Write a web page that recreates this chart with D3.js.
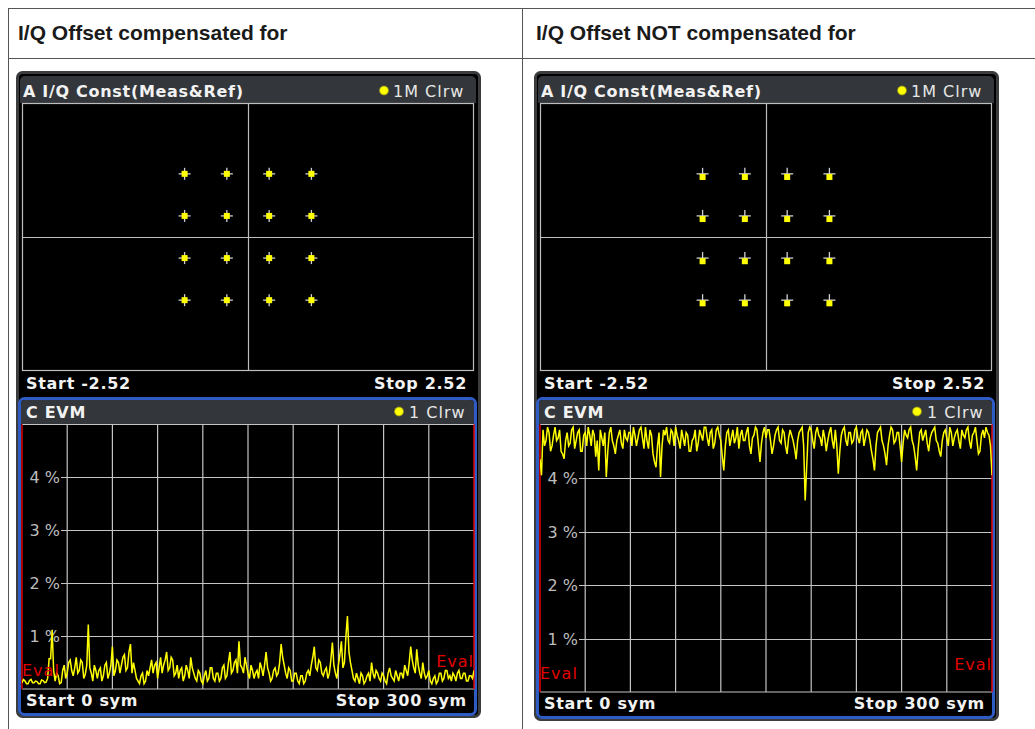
<!DOCTYPE html>
<html>
<head>
<meta charset="utf-8">
<script src="https://cdn.jsdelivr.net/npm/d3@7"></script>
<style>
  body { margin: 0; background: #fff; }
  svg { display: block; }
</style>
</head>
<body>
<div id="chart"></div>
<script>
// column headers of the table
const headers = ["I/Q Offset compensated for", "I/Q Offset NOT compensated for"];

// 16QAM reference levels (I and Q), constellation span
const iqLevels = [-0.707, -0.236, 0.236, 0.707];
const constSpan = [-2.52, 2.52];
const qSpan = [-1.5, 1.5];
// measured point offset from reference (I, Q)
const measOffsetComp = [0, 0];
const measOffsetNotComp = [0, -0.035];

// EVM trace, one value per symbol (0..300), in %
const evmComp = [
  0.12,0.18,0.15,0.10,0.10,0.16,0.18,0.12,0.12,0.15,
  0.14,0.10,0.10,0.17,0.16,0.12,0.13,0.20,0.57,0.57,
  1.12,0.35,0.15,0.30,0.25,0.10,0.12,0.35,0.45,0.20,
  0.30,0.50,0.55,0.35,0.25,0.40,0.60,0.30,0.35,0.55,
  0.50,0.20,0.28,0.45,1.22,0.40,0.30,0.15,0.45,0.35,
  0.20,0.35,0.40,0.15,0.25,0.45,0.50,0.20,0.30,0.45,
  0.80,0.25,0.35,0.55,0.50,0.30,0.45,0.60,0.65,0.35,
  0.40,0.70,0.85,0.30,0.50,0.35,0.20,0.15,0.10,0.25,
  0.30,0.10,0.15,0.35,0.25,0.40,0.55,0.30,0.45,0.50,
  0.20,0.40,0.60,0.30,0.45,0.55,0.70,0.35,0.40,0.60,
  0.55,0.25,0.30,0.45,0.20,0.35,0.40,0.15,0.25,0.45,
  0.35,0.20,0.60,0.40,0.30,0.20,0.15,0.35,0.30,0.15,
  0.10,0.25,0.35,0.15,0.20,0.40,0.40,0.20,0.15,0.30,
  0.30,0.15,0.20,0.40,0.45,0.20,0.25,0.50,0.70,0.30,
  0.35,0.50,0.55,0.30,0.90,0.45,0.40,0.30,0.60,0.45,
  0.30,0.20,0.45,0.35,0.20,0.30,0.35,0.20,0.50,0.40,
  0.25,0.45,0.70,0.40,0.30,0.15,0.20,0.35,0.40,0.25,
  0.30,0.50,0.85,0.60,0.45,0.30,0.20,0.40,0.35,0.15,
  0.15,0.30,0.30,0.15,0.10,0.25,0.25,0.10,0.15,0.30,
  0.35,0.25,0.45,0.60,0.80,0.40,0.35,0.55,0.50,0.30,
  0.25,0.35,0.40,0.20,0.30,0.55,0.88,0.45,0.30,0.20,
  0.45,0.65,0.90,0.40,0.50,1.00,1.38,0.70,0.50,0.35,
  0.20,0.15,0.30,0.20,0.10,0.30,0.25,0.10,0.15,0.25,
  0.30,0.15,0.50,0.30,0.20,0.35,0.30,0.20,0.15,0.30,
  0.25,0.15,0.10,0.30,0.40,0.25,0.20,0.15,0.35,0.25,
  0.15,0.30,0.30,0.20,0.45,0.35,0.25,0.50,0.80,0.55,
  0.40,0.30,0.75,0.45,0.30,0.20,0.50,0.30,0.20,0.25,
  0.35,0.15,0.10,0.20,0.25,0.10,0.15,0.30,0.30,0.15,
  0.20,0.35,0.35,0.20,0.25,0.15,0.30,0.25,0.15,0.30,
  0.35,0.20,0.20,0.30,0.30,0.15,0.15,0.25,0.25,0.20,
  0.35
];
const evmNotComp = [
  4.35,4.05,4.90,4.60,4.70,4.95,4.85,4.50,4.60,4.80,
  4.95,4.70,4.75,4.90,4.50,4.45,4.36,4.70,4.85,4.60,
  4.65,4.90,4.95,4.55,4.70,4.85,4.90,4.50,4.50,4.80,
  4.85,4.60,4.95,4.80,4.60,4.90,4.80,4.40,4.70,4.14,
  4.90,4.75,4.60,4.85,4.02,4.50,4.85,4.95,4.70,4.60,
  4.45,4.70,4.80,4.90,4.65,4.55,4.90,4.75,4.70,4.85,
  4.85,4.60,4.95,4.80,4.60,4.75,4.90,4.95,4.75,4.55,
  4.95,4.70,4.55,4.90,4.80,4.45,4.30,4.20,4.60,4.85,
  4.02,4.60,4.90,4.80,4.95,4.70,4.65,4.90,4.85,4.60,
  4.95,4.80,4.70,4.55,4.90,4.75,4.60,4.85,4.80,4.50,
  4.50,4.70,4.75,4.90,4.50,4.65,4.90,4.80,4.70,4.95,
  4.95,4.75,4.60,4.85,4.90,4.55,4.65,4.90,4.95,4.80,
  4.70,4.40,4.14,4.60,4.85,4.90,4.60,4.75,4.90,4.65,
  4.75,4.95,4.55,4.80,4.90,4.70,4.70,4.85,4.95,4.60,
  4.45,4.75,4.80,4.95,4.90,4.60,4.30,4.65,4.85,4.95,
  4.75,4.90,4.90,4.70,4.45,4.60,4.80,4.90,4.95,4.70,
  4.65,4.90,4.85,4.60,4.45,4.75,4.90,4.80,4.70,4.55,
  4.35,4.70,4.85,4.90,4.95,4.60,3.58,4.20,4.85,4.95,
  4.90,4.70,4.55,4.85,4.95,4.80,4.75,4.60,4.90,4.75,
  4.50,4.70,4.85,4.95,4.70,4.55,4.90,4.60,4.08,4.50,
  4.80,4.90,4.95,4.70,4.60,4.85,4.85,4.65,4.70,4.90,
  4.95,4.75,4.65,4.85,4.90,4.60,4.75,4.90,4.85,4.70,
  4.50,4.35,4.14,4.60,4.85,4.90,4.95,4.70,4.60,4.45,
  4.24,4.60,4.80,4.95,4.90,4.65,4.70,4.85,4.85,4.60,
  4.30,4.65,4.90,4.80,4.75,4.90,4.95,4.70,4.60,4.40,
  4.14,4.55,4.85,4.90,4.70,4.80,4.90,4.65,4.50,4.75,
  4.85,4.90,4.95,4.70,4.65,4.50,4.40,4.70,4.85,4.90,
  4.75,4.60,4.95,4.85,4.60,4.75,4.85,4.90,4.70,4.55,
  4.90,4.80,4.75,4.90,4.95,4.70,4.55,4.80,4.85,4.95,
  4.70,4.45,4.50,4.80,4.90,4.75,4.95,4.85,4.80,4.60,
  4.05
];
const evmTicks = [1, 2, 3, 4];
const symRange = [0, 300];

const W = 1035, H = 729;
const svg = d3.select("#chart").append("svg")
    .attr("width", W).attr("height", H);

// table lines
const lineColor = "#555";
svg.append("line").attr("x1", 8).attr("x2", W).attr("y1", 8.5).attr("y2", 8.5).attr("stroke", lineColor);
svg.append("line").attr("x1", 8).attr("x2", W).attr("y1", 58.5).attr("y2", 58.5).attr("stroke", lineColor);
svg.append("line").attr("x1", 8.5).attr("x2", 8.5).attr("y1", 8).attr("y2", H).attr("stroke", lineColor);
svg.append("line").attr("x1", 522.5).attr("x2", 522.5).attr("y1", 8).attr("y2", H).attr("stroke", lineColor);

svg.selectAll(".hdr").data(headers).enter().append("text")
    .attr("class", "hdr")
    .attr("x", (d, i) => i === 0 ? 18 : 536)
    .attr("y", 40)
    .attr("font-family", "Liberation Sans, Arial, sans-serif")
    .attr("font-weight", "bold")
    .attr("font-size", 21)
    .attr("fill", "#1a1a1a")
    .text(d => d);

const font = "DejaVu Sans, Verdana, sans-serif";

function label(g, x, y, txt, opts) {
    opts = opts || {};
    return g.append("text").attr("x", x).attr("y", y)
        .attr("font-family", font)
        .attr("font-weight", opts.bold ? "bold" : "normal")
        .attr("font-size", 16)
        .attr("letter-spacing", opts.bold ? 0.7 : 1)
        .attr("text-anchor", opts.anchor || "start")
        .attr("fill", opts.color || "#f2f2f2")
        .text(txt);
}

function drawPanel(dx, evmData, measOffset, evmBottom) {
    const g = svg.append("g").attr("transform", "translate(" + dx + ",0)");

    // outer frame of the window
    g.append("rect").attr("x", 17.5).attr("y", 72.5).attr("width", 462).attr("height", evmBottom + 27 - 72)
        .attr("rx", 5).attr("fill", "#000").attr("stroke", "#3a3c3e").attr("stroke-width", 3);
    g.append("rect").attr("x", 20).attr("y", 76).attr("width", 456).attr("height", 27)
        .attr("rx", 5).attr("fill", "#33363a");
    g.append("rect").attr("x", 20).attr("y", 95).attr("width", 456).attr("height", 8)
        .attr("fill", "#33363a");

    label(g, 23, 97, "A I/Q Const(Meas&Ref)", {bold: true});
    g.append("circle").attr("cx", 384).attr("cy", 90.5).attr("r", 4.5)
        .attr("fill", "#ffff00").attr("stroke", "#8a8a20").attr("stroke-width", 0.8);
    label(g, 393, 97, "1M Clrw", {color: "#e6e6e6"});

    // constellation plot
    const cx = d3.scaleLinear().domain(constSpan).range([22, 474]);
    const cy = d3.scaleLinear().domain(qSpan).range([371, 103]);

    g.append("rect").attr("x", 22.5).attr("y", 103.5).attr("width", 451).attr("height", 267)
        .attr("fill", "#000").attr("stroke", "#bdbdbd").attr("stroke-width", 1.2);
    g.append("line").attr("x1", Math.round(cx(0)) + 0.5).attr("x2", Math.round(cx(0)) + 0.5)
        .attr("y1", 103).attr("y2", 371).attr("stroke", "#bdbdbd").attr("stroke-width", 1.2);
    g.append("line").attr("y1", Math.round(cy(0)) + 0.5).attr("y2", Math.round(cy(0)) + 0.5)
        .attr("x1", 22).attr("x2", 474).attr("stroke", "#bdbdbd").attr("stroke-width", 1.2);

    const pts = [];
    iqLevels.forEach(i => iqLevels.forEach(q => pts.push({i: i, q: q})));

    const refs = g.selectAll(".ref").data(pts).enter().append("g").attr("class", "ref");
    refs.append("line")
        .attr("x1", d => cx(d.i) - 6).attr("x2", d => cx(d.i) + 6)
        .attr("y1", d => cy(d.q)).attr("y2", d => cy(d.q))
        .attr("stroke", "#d0d0d0").attr("stroke-width", 1.3);
    refs.append("line")
        .attr("x1", d => cx(d.i)).attr("x2", d => cx(d.i))
        .attr("y1", d => cy(d.q) - 6).attr("y2", d => cy(d.q) + 6)
        .attr("stroke", "#d0d0d0").attr("stroke-width", 1.3);
    g.selectAll(".meas").data(pts).enter().append("rect")
        .attr("class", "meas")
        .attr("x", d => cx(d.i + measOffset[0]) - 3)
        .attr("y", d => cy(d.q + measOffset[1]) - 3)
        .attr("width", 6).attr("height", 6)
        .attr("fill", "#ffff00");

    label(g, 26, 389, "Start " + constSpan[0], {bold: true});
    label(g, 467, 389, "Stop " + constSpan[1], {bold: true, anchor: "end"});

    // EVM window
    const top = 424.5;
    g.append("rect").attr("x", 19.5).attr("y", 398.5).attr("width", 456).attr("height", evmBottom + 25 - 398)
        .attr("rx", 5).attr("fill", "#000").attr("stroke", "#2f5cc4").attr("stroke-width", 3);
    g.append("rect").attr("x", 21).attr("y", 400).attr("width", 453).attr("height", 24)
        .attr("rx", 4).attr("fill", "#33363a");
    g.append("rect").attr("x", 21).attr("y", 412).attr("width", 453).attr("height", 12)
        .attr("fill", "#33363a");
    label(g, 26, 418, "C EVM", {bold: true});
    g.append("circle").attr("cx", 399).attr("cy", 411.5).attr("r", 4.5)
        .attr("fill", "#ffff00").attr("stroke", "#8a8a20").attr("stroke-width", 0.8);
    label(g, 409, 418, "1 Clrw", {color: "#e6e6e6"});

    const ex = d3.scaleLinear().domain(symRange).range([22, 474]);
    const ey = d3.scaleLinear().domain([0, 5]).range([evmBottom, top]);

    g.append("rect").attr("x", 22).attr("y", top).attr("width", 452).attr("height", evmBottom - top)
        .attr("fill", "#000");

    const grid = g.append("g").attr("stroke", "#c4c4c4").attr("stroke-width", 1.2);
    grid.selectAll(".vg").data(d3.range(30, 300, 30)).enter().append("line")
        .attr("x1", d => ex(d)).attr("x2", d => ex(d))
        .attr("y1", top).attr("y2", evmBottom);
    grid.selectAll(".hg").data(evmTicks).enter().append("line")
        .attr("x1", 61).attr("x2", 474)
        .attr("y1", d => Math.round(ey(d)) + 0.5).attr("y2", d => Math.round(ey(d)) + 0.5);
    grid.append("line").attr("x1", 22).attr("x2", 474).attr("y1", top).attr("y2", top);
    grid.append("line").attr("x1", 22).attr("x2", 474).attr("y1", evmBottom).attr("y2", evmBottom);

    g.selectAll(".yl").data(evmTicks).enter().append("text")
        .attr("x", 60).attr("y", d => ey(d) + 6).attr("text-anchor", "end")
        .attr("font-family", font).attr("font-size", 16)
        .attr("fill", "#bdbdbd").text(d => d + " %");

    // edges in red
    g.append("line").attr("x1", 22).attr("x2", 22).attr("y1", top).attr("y2", evmBottom)
        .attr("stroke", "#e00000").attr("stroke-width", 1.5);
    g.append("line").attr("x1", 474).attr("x2", 474).attr("y1", top).attr("y2", evmBottom)
        .attr("stroke", "#e00000").attr("stroke-width", 1.5);

    const clipId = "clip" + dx;
    g.append("clipPath").attr("id", clipId).append("rect")
        .attr("x", 22).attr("y", top).attr("width", 452).attr("height", evmBottom - top);

    const line = d3.line()
        .x((d, i) => ex(i))
        .y(d => ey(d));
    g.append("path").datum(evmData)
        .attr("clip-path", "url(#" + clipId + ")")
        .attr("fill", "none").attr("stroke", "#ffff00").attr("stroke-width", 1.5)
        .attr("d", line);

    label(g, 22, evmBottom - 13, "Eval", {color: "#e00000"});
    label(g, 474, evmBottom - 22, "Eval", {color: "#e00000", anchor: "end"});

    label(g, 26, evmBottom + 17, "Start " + symRange[0] + " sym", {bold: true});
    label(g, 467, evmBottom + 17, "Stop " + symRange[1] + " sym", {bold: true, anchor: "end"});
}

drawPanel(0, evmComp, measOffsetComp, 689);
drawPanel(518, evmNotComp, measOffsetNotComp, 692);
</script>
</body>
</html>
